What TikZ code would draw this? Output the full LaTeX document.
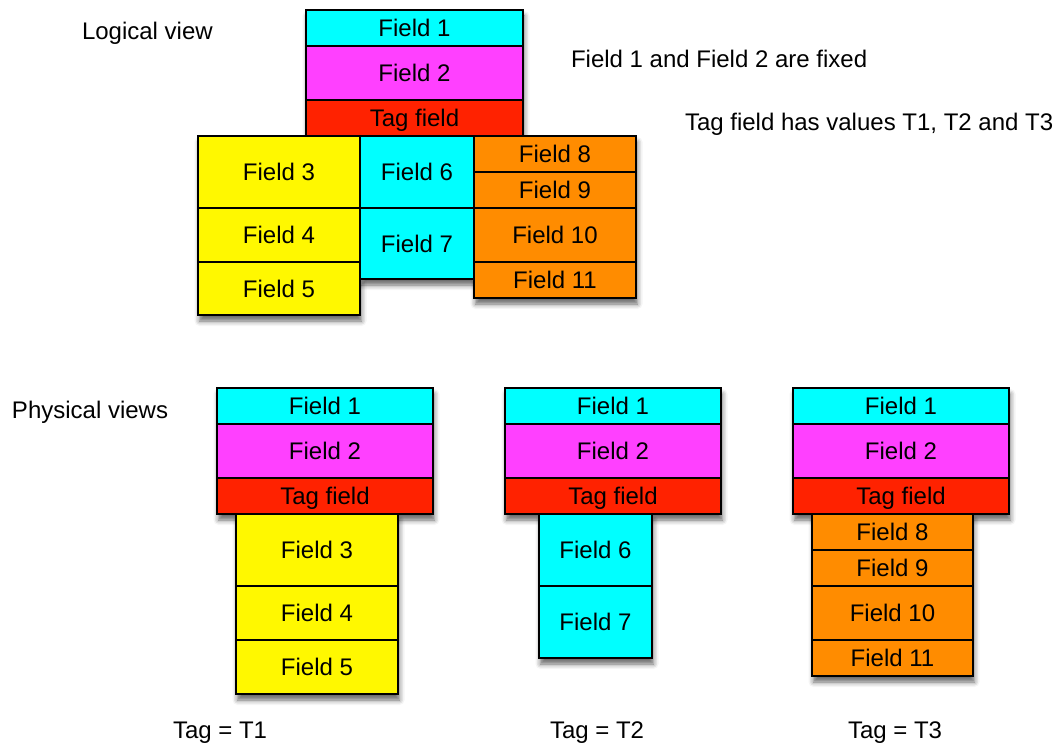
\documentclass[tikz,border=0pt]{standalone}
\usepackage{fontspec}
\setmainfont{Liberation Sans}
\usetikzlibrary{shadows.blur}

\definecolor{fcyan}{RGB}{0,255,255}
\definecolor{fmag}{RGB}{255,64,255}
\definecolor{fred}{RGB}{255,34,0}
\definecolor{fyel}{RGB}{255,248,0}
\definecolor{forg}{RGB}{255,140,0}

\tikzset{
  fieldbox/.style={draw=black, line width=1.6pt, inner sep=0pt, outer sep=0pt,
    font=\fontsize{24}{29}\selectfont, text height=17.2pt, text depth=0pt},
  shadowbox/.style={fill=white, blur shadow={shadow xshift=1.5pt, shadow yshift=-6pt,
    shadow blur radius=5pt, shadow opacity=60}},
  lbl/.style={inner sep=0pt, outer sep=0pt, font=\fontsize{24}{29}\selectfont, anchor=base west}
}

% name, x1, y1, x2, y2, colour, text
\newcommand\fld[7]{%
  \node[fieldbox, fill=#6, minimum width={(#4-#2)*1pt}, minimum height={(#5-#3)*1pt}]
    (#1) at ({(#2+#4)/2},{(#3+#5)/2}) {#7};}
\newcommand\shd[4]{\path[shadowbox] (#1,#2) rectangle (#3,#4);}

\begin{document}
\begin{tikzpicture}[x=1pt, y=-1pt]
\useasboundingbox (0,0) rectangle (1056,746);

% ---------- shadows ----------
\shd{306}{10}{523}{136}
\shd{198}{136}{360}{315}
\shd{360}{136}{474}{279}
\shd{474}{136}{636}{298}
\shd{217}{388}{433}{514}
\shd{236}{514}{398}{694}
\shd{505}{388}{721}{514}
\shd{539}{514}{652}{658}
\shd{793}{388}{1009}{514}
\shd{812}{514}{973}{676}

% ---------- logical view ----------
\fld{l1}{306}{10}{523}{46}{fcyan}{Field 1}
\fld{l2}{306}{46}{523}{100}{fmag}{Field 2}
\fld{lt}{306}{100}{523}{136}{fred}{Tag field}
\fld{l3}{198}{136}{360}{208}{fyel}{Field 3}
\fld{l4}{198}{208}{360}{262}{fyel}{Field 4}
\fld{l5}{198}{262}{360}{315}{fyel}{Field 5}
\fld{l6}{360}{136}{474}{208}{fcyan}{Field 6}
\fld{l7}{360}{208}{474}{279}{fcyan}{Field 7}
\fld{l8}{474}{136}{636}{172}{forg}{Field 8}
\fld{l9}{474}{172}{636}{208}{forg}{Field 9}
\fld{l10}{474}{208}{636}{262}{forg}{Field 10}
\fld{l11}{474}{262}{636}{298}{forg}{Field 11}

% ---------- physical view T1 ----------
\fld{a1}{217}{388}{433}{424}{fcyan}{Field 1}
\fld{a2}{217}{424}{433}{478}{fmag}{Field 2}
\fld{at}{217}{478}{433}{514}{fred}{Tag field}
\fld{a3}{236}{514}{398}{586}{fyel}{Field 3}
\fld{a4}{236}{586}{398}{640}{fyel}{Field 4}
\fld{a5}{236}{640}{398}{694}{fyel}{Field 5}

% ---------- physical view T2 ----------
\fld{b1}{505}{388}{721}{424}{fcyan}{Field 1}
\fld{b2}{505}{424}{721}{478}{fmag}{Field 2}
\fld{bt}{505}{478}{721}{514}{fred}{Tag field}
\fld{b6}{539}{514}{652}{586}{fcyan}{Field 6}
\fld{b7}{539}{586}{652}{658}{fcyan}{Field 7}

% ---------- physical view T3 ----------
\fld{c1}{793}{388}{1009}{424}{fcyan}{Field 1}
\fld{c2}{793}{424}{1009}{478}{fmag}{Field 2}
\fld{ct}{793}{478}{1009}{514}{fred}{Tag field}
\fld{c8}{812}{514}{973}{550}{forg}{Field 8}
\fld{c9}{812}{550}{973}{586}{forg}{Field 9}
\fld{c10}{812}{586}{973}{640}{forg}{Field 10}
\fld{c11}{812}{640}{973}{676}{forg}{Field 11}

% ---------- labels ----------
\node[lbl] (logical) at (82,40) {Logical view};
\node[lbl] (fixed) at (571,68) {Field 1 and Field 2 are fixed};
\node[lbl] (tagvals) at (685,130.5) {Tag field has values T1, T2 and T3};
\node[lbl] (physical) at (12,418) {Physical views};
\node[lbl] (t1) at (173,738) {Tag = T1};
\node[lbl] (t2) at (550,738) {Tag = T2};
\node[lbl] (t3) at (848,738) {Tag = T3};
\end{tikzpicture}
\end{document}
